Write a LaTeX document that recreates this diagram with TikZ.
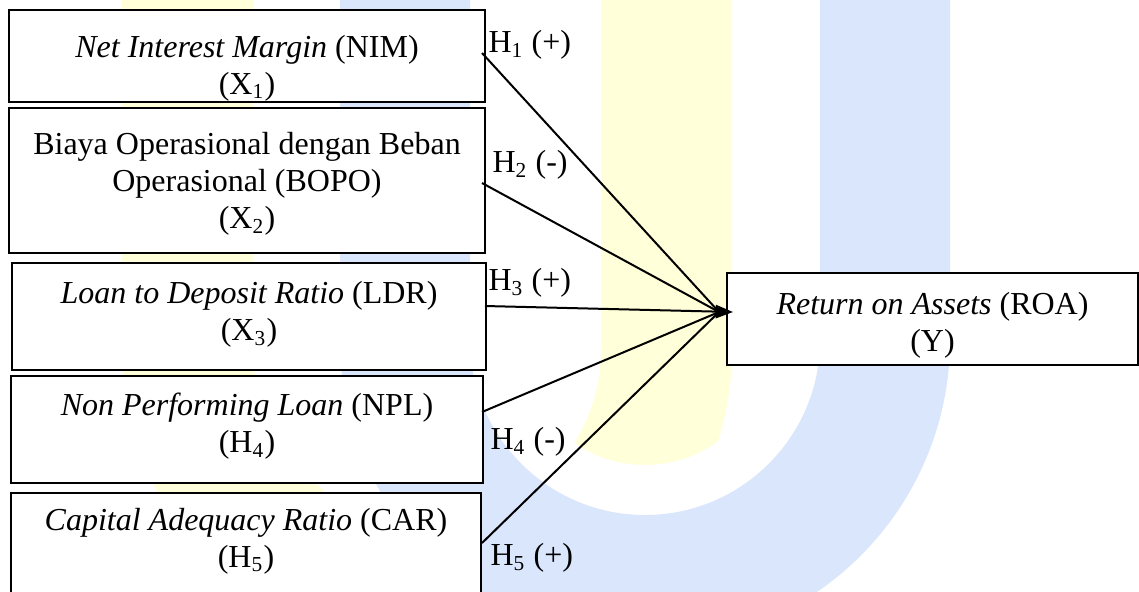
\documentclass[tikz,border=0pt]{standalone}
\usepackage{fontspec}
\setmainfont{Liberation Serif}
\usetikzlibrary{arrows.meta}
\definecolor{wmyellow}{RGB}{255,255,217}
\definecolor{wmblue}{RGB}{217,230,252}
\begin{document}
\begin{tikzpicture}[x=0.375pt,y=-0.375pt,
  box/.style={draw=black, line width=0.7pt, fill=white, inner sep=0pt},
  txt/.style={font=\fontsize{12pt}{13.8pt}\selectfont, align=center, inner sep=0pt},
  hyp/.style={font=\fontsize{12pt}{13.8pt}\selectfont, anchor=west, inner sep=0pt},
  link/.style={line width=0.75pt},
  linkhead/.style={line width=0.75pt, -{Triangle[length=6.5pt,width=5pt]}}]
\path[use as bounding box] (0,0) rectangle (1139,591);
% watermark
\begin{scope}
\clip (0,0) rectangle (1139,591);
\draw[wmyellow, line width={131*0.375pt}] (187.5,-20) -- (187.5,350) arc[start angle=180, end angle=0, radius=239.5] -- (666.5,-20);
\draw[white, line width={230*0.375pt}] (405,-20) -- (405,340) arc[start angle=180, end angle=0, radius=240] -- (885,-20);
\draw[wmblue, line width={130*0.375pt}] (405,-20) -- (405,340) arc[start angle=180, end angle=0, radius=240] -- (885,-20);
\end{scope}
% boxes
\node[box, minimum width={476*0.375pt}, minimum height={92*0.375pt},
  label={[txt, yshift=-4.5pt]center:{\textit{Net Interest Margin} (NIM)\\(X\textsubscript{1})}}] (b1) at (247,56) {};
\node[box, minimum width={476*0.375pt}, minimum height={145*0.375pt},
  label={[txt, yshift=-1.3pt]center:{Biaya Operasional dengan Beban\\Operasional (BOPO)\\(X\textsubscript{2})}}] (b2) at (247,180.5) {};
\node[box, minimum width={474*0.375pt}, minimum height={107*0.375pt},
  label={[txt, yshift=0.9pt]center:{\textit{Loan to Deposit Ratio} (LDR)\\(X\textsubscript{3})}}] (b3) at (249,316.5) {};
\node[box, minimum width={472*0.375pt}, minimum height={107*0.375pt},
  label={[txt, yshift=1.3pt]center:{\textit{Non Performing Loan} (NPL)\\(H\textsubscript{4})}}] (b4) at (247,429.5) {};
\node[box, minimum width={470*0.375pt}, minimum height={107*0.375pt},
  label={[txt, yshift=2.1pt]center:{\textit{Capital Adequacy Ratio} (CAR)\\(H\textsubscript{5})}}] (b5) at (246,546.5) {};
\node[box, minimum width={411*0.375pt}, minimum height={92*0.375pt},
  label={[txt, yshift=-2.25pt]center:{\textit{Return on Assets} (ROA)\\(Y)}}] (roa) at (932.5,319) {};
% hypothesis labels
\node[hyp] (h1) at (488,45) {H\textsubscript{1} (+)};
\node[hyp] (h2) at (492,165) {H\textsubscript{2} (-)};
\node[hyp] (h3) at (488,283) {H\textsubscript{3} (+)};
\node[hyp] (h4) at (490,442) {H\textsubscript{4} (-)};
\node[hyp] (h5) at (490,558) {H\textsubscript{5} (+)};
% connector ends
\coordinate (s1) at (482,53);
\coordinate (s2) at (482,183);
\coordinate (s3) at (485,306);
\coordinate (s4) at (482,412);
\coordinate (s5) at (482,543);
\coordinate (tip) at (733,312);
\coordinate (base) at (719,312);
\draw[link] (s1) -- (base);
\draw[link] (s2) -- (base);
\draw[link] (s4) -- (base);
\draw[link] (s5) -- (base);
\draw[linkhead] (s3) -- (tip);
\end{tikzpicture}
\end{document}
